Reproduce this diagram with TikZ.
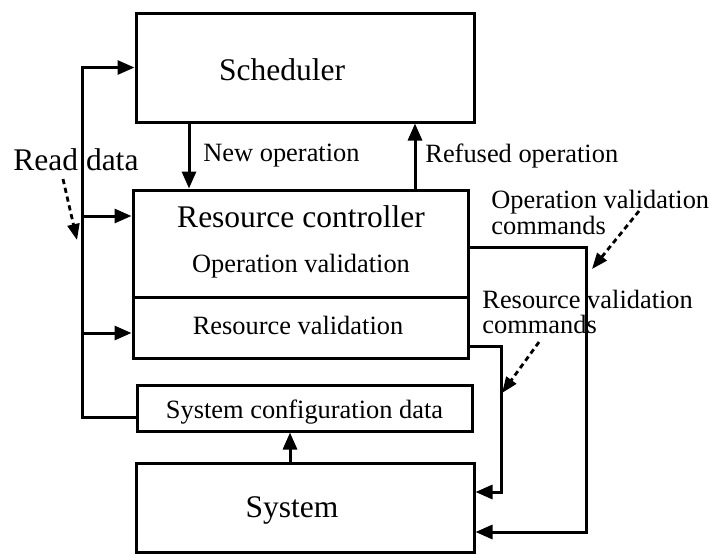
\documentclass[tikz,border=0pt]{standalone}
\usepackage{fontspec}
\setmainfont{Liberation Serif}
\usetikzlibrary{arrows.meta}
\tikzset{
  box/.style={draw, line width=1.5pt, inner sep=0pt},
  wire/.style={line width=1.5pt},
  arr/.style={wire, -{Triangle[length=8.5pt,width=7pt]}},
  note/.style={line width=1.4pt, dash pattern=on 2.6pt off 1.9pt,
    -{Triangle[length=8pt,width=6pt]}},
  big/.style={inner sep=0pt, font=\fontsize{15.75}{18}\selectfont},
  small/.style={inner sep=0pt, font=\fontsize{13.2}{15}\selectfont},
}
\begin{document}
\begin{tikzpicture}[x=0.5pt, y=-0.5pt]
\useasboundingbox (0,0) rectangle (710,554);

% blocks
\node[box, minimum width=169pt, minimum height=54.5pt] (sched) at (305,67.5) {};
\node[box, minimum width=167.5pt, minimum height=84pt] (rc) at (300.5,274) {};
\node[box, minimum width=167.5pt, minimum height=23pt] (cfg) at (304.5,408) {};
\node[box, minimum width=169pt, minimum height=44.5pt] (sys) at (305,507.5) {};

% divider inside the resource controller
\coordinate (dv) at (0,297);
\draw[wire] (rc.west |- dv) -- ([xshift=-1.5pt]rc.east |- dv);

% block texts
\node[big, anchor=base] (tsched) at (282,80) {Scheduler};
\node[big, anchor=base] (trc) at (301,227) {Resource controller};
\node[small, anchor=base] (tov) at (301,272) {Operation validation};
\node[small, anchor=base] (trv) at (298,334) {Resource validation};
\node[small, anchor=base] (tcfg) at (304.5,418) {System configuration data};
\node[big, anchor=base] (tsys) at (292,517) {System};

% labels
\node[small, anchor=base west] (lnew) at (203,161) {New operation};
\node[small, anchor=base west] (lref) at (425,162) {Refused operation};
\node[big, anchor=base west] (lread) at (13,170) {Read data};
\node[small, anchor=base west] (lovc1) at (491,208) {Operation validation};
\node[small, anchor=base west] (lovc2) at (491,234) {commands};
\node[small, anchor=base west] (lrvc1) at (482,308) {Resource validation};
\node[small, anchor=base west] (lrvc2) at (482,333) {commands};

% scheduler <-> resource controller
\coordinate (nx) at (189,0);
\coordinate (rx) at (415,0);
\draw[arr] (sched.south -| nx) -- (rc.north -| nx);
\draw[arr] (rc.north -| rx) -- (sched.south -| rx);

% system -> configuration data
\coordinate (ux) at (290,0);
\draw[arr] (sys.north -| ux) -- (cfg.south -| ux);

% read data bus
\coordinate (busb) at (82,417);
\coordinate (r1) at (0,216);
\coordinate (r2) at (0,333);
\draw[arr] (cfg.west |- busb) -- (busb) -- (busb |- sched.west) -- (sched.west);
\draw[arr] (busb |- r1) -- (rc.west |- r1);
\draw[arr] (busb |- r2) -- (rc.west |- r2);

% validation commands to the system
\coordinate (oc) at (586,247);
\coordinate (oe) at (586,532);
\draw[arr] (rc.east |- oc) -- (oc) -- (oe) -- (sys.east |- oe);
\coordinate (vc) at (501,346);
\coordinate (ve) at (501,492);
\draw[arr] (rc.east |- vc) -- (vc) -- (ve) -- (sys.east |- ve);

% annotation pointers
\coordinate (rdA) at (63,179);
\coordinate (rdB) at (77,240);
\draw[note] (rdA) -- (rdB);
\coordinate (ovA) at (639,211);
\coordinate (ovB) at (592,269);
\draw[note] (ovA) -- (ovB);
\coordinate (rvA) at (539,342);
\coordinate (rvB) at (502,393);
\draw[note] (rvA) -- (rvB);
\end{tikzpicture}
\end{document}
